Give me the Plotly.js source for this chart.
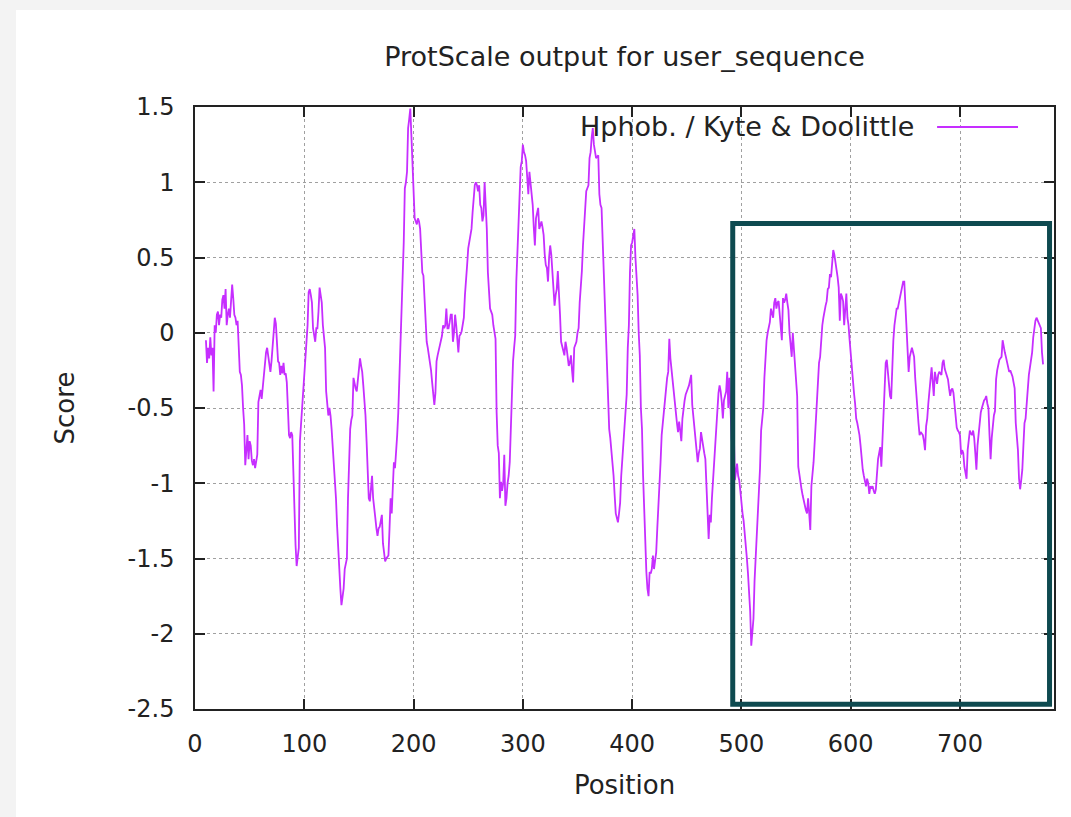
<!DOCTYPE html>
<html>
<head>
<meta charset="utf-8">
<script src="https://cdn.plot.ly/plotly-3.0.1.min.js"></script>
<style>
  html, body { margin: 0; padding: 0; background: #f3f3f3; width: 1071px; height: 817px; overflow: hidden; }
  #chart { position: absolute; left: 16px; top: 10px; width: 1055px; height: 807px; background: #ffffff; }
</style>
</head>
<body>
<div id="chart"></div>
<script>
// ---- data ----
const chartTitle = "ProtScale output for user_sequence";
const seriesName = "Hphob. / Kyte & Doolittle";
const xAxisTitle = "Position";
const yAxisTitle = "Score";
const firstPosition = 10;   // position of first score; one score per residue
const scores = [
  -0.05,-0.2,-0.1,-0.17,-0.03,-0.15,-0.1,-0.39,0.05,0.0,
  0.12,0.14,0.05,0.12,0.1,0.22,0.25,0.16,0.29,0.05,
  0.12,0.16,0.1,0.2,0.32,0.23,0.12,0.1,0.05,0.08,
  -0.1,-0.26,-0.28,-0.35,-0.5,-0.61,-0.88,-0.73,-0.68,-0.84,
  -0.72,-0.75,-0.85,-0.88,-0.84,-0.9,-0.86,-0.81,-0.46,-0.42,
  -0.38,-0.44,-0.36,-0.3,-0.17,-0.13,-0.1,-0.16,-0.2,-0.26,
  -0.19,-0.08,0.05,0.1,0.06,-0.1,-0.19,-0.2,-0.28,-0.22,
  -0.27,-0.2,-0.28,-0.27,-0.33,-0.5,-0.68,-0.7,-0.66,-0.68,
  -0.95,-1.2,-1.41,-1.55,-1.5,-1.43,-0.72,-0.6,-0.48,-0.44,
  -0.3,-0.15,-0.06,0.05,0.27,0.29,0.25,0.2,0.03,-0.03,
  -0.06,0.03,0.03,0.14,0.3,0.25,0.2,0.05,-0.05,-0.1,
  -0.39,-0.45,-0.55,-0.5,-0.55,-0.64,-0.75,-0.84,-0.97,-1.1,
  -1.28,-1.45,-1.6,-1.7,-1.81,-1.75,-1.7,-1.57,-1.52,-1.5,
  -1.1,-0.8,-0.64,-0.58,-0.55,-0.3,-0.34,-0.37,-0.39,-0.3,
  -0.26,-0.17,-0.22,-0.26,-0.35,-0.45,-0.55,-0.72,-0.9,-1.1,
  -1.12,-1.05,-0.95,-1.1,-1.15,-1.23,-1.3,-1.35,-1.3,-1.29,
  -1.25,-1.21,-1.4,-1.46,-1.52,-1.5,-1.49,-1.48,-1.3,-1.1,
  -1.2,-1.0,-0.86,-0.9,-0.8,-0.68,-0.53,-0.3,-0.08,0.07,
  0.35,0.6,0.96,1.0,1.07,1.36,1.42,1.49,1.31,1.1,
  0.87,0.76,0.74,0.72,0.76,0.74,0.69,0.52,0.4,0.38,
  0.2,0.12,-0.06,-0.1,-0.15,-0.19,-0.25,-0.33,-0.44,-0.48,
  -0.4,-0.19,-0.15,-0.12,-0.1,-0.05,-0.02,0.05,0.03,0.05,
  0.16,0.03,0.03,0.07,0.12,0.12,-0.06,0.0,0.12,0.05,
  -0.02,-0.13,-0.02,-0.01,0.01,0.05,0.1,0.25,0.4,0.45,
  0.56,0.6,0.63,0.69,0.8,0.87,0.98,1.0,0.98,0.94,
  0.98,0.85,0.83,0.74,0.78,1.0,0.85,0.69,0.4,0.25,
  0.16,0.14,0.12,0.05,0.0,-0.04,-0.53,-0.75,-0.8,-1.1,
  -0.99,-1.05,-1.0,-0.81,-1.15,-1.1,-1.0,-0.95,-0.86,-0.6,
  -0.48,-0.19,-0.1,-0.02,0.34,0.52,0.7,0.98,1.1,1.14,
  1.25,1.2,1.18,1.14,1.0,0.92,1.07,1.0,0.95,0.85,
  0.7,0.58,0.76,0.8,0.83,0.69,0.72,0.74,0.7,0.65,
  0.52,0.45,0.43,0.34,0.5,0.58,0.52,0.4,0.29,0.18,
  0.25,0.29,0.41,0.2,0.12,-0.06,-0.1,-0.12,-0.15,-0.06,
  -0.1,-0.19,-0.22,-0.2,-0.15,-0.25,-0.33,-0.1,-0.08,-0.06,
  0.0,0.03,0.2,0.3,0.41,0.58,0.7,0.76,0.94,0.96,
  0.98,1.16,1.2,1.3,1.36,1.25,1.2,1.16,1.17,1.18,
  0.92,0.85,0.83,0.6,0.49,0.18,-0.1,-0.3,-0.46,-0.64,
  -0.7,-0.77,-0.86,-0.95,-1.08,-1.2,-1.23,-1.26,-1.2,-1.13,
  -0.95,-0.85,-0.75,-0.6,-0.53,-0.41,-0.1,0.05,0.4,0.58,
  0.6,0.65,0.69,0.5,0.38,0.25,0.0,-0.15,-0.5,-0.64,
  -0.95,-1.2,-1.33,-1.59,-1.7,-1.75,-1.59,-1.6,-1.57,-1.48,
  -1.57,-1.5,-1.46,-1.3,-1.17,-1.0,-0.86,-0.68,-0.6,-0.53,
  -0.44,-0.37,-0.3,-0.26,-0.04,-0.17,-0.25,-0.33,-0.41,-0.45,
  -0.55,-0.6,-0.66,-0.59,-0.65,-0.72,-0.57,-0.5,-0.45,-0.41,
  -0.38,-0.37,-0.35,-0.3,-0.28,-0.48,-0.55,-0.61,-0.7,-0.75,
  -0.86,-0.8,-0.77,-0.66,-0.72,-0.75,-0.8,-0.84,-1.01,-1.2,
  -1.37,-1.21,-1.26,-1.1,-0.97,-0.85,-0.79,-0.64,-0.46,-0.4,
  -0.35,-0.39,-0.46,-0.57,-0.45,-0.41,-0.39,-0.26,-0.5,-0.3,
  -0.55,-0.7,-0.8,-0.65,-0.98,-0.9,-0.87,-0.95,-0.98,-1.05,
  -1.14,-1.2,-1.25,-1.32,-1.42,-1.5,-1.6,-1.72,-1.85,-2.08,
  -1.98,-1.9,-1.65,-1.5,-1.35,-1.15,-1.05,-0.9,-0.65,-0.55,
  -0.5,-0.3,-0.15,-0.05,0.0,0.05,0.07,0.16,0.12,0.1,
  0.2,0.23,0.16,0.2,0.21,0.1,0.05,-0.05,0.23,0.2,
  0.22,0.26,0.2,0.15,0.0,-0.08,-0.16,0.0,-0.1,-0.21,
  -0.35,-0.42,-0.89,-0.95,-0.99,-1.04,-1.08,-1.12,-1.15,-1.18,
  -1.2,-1.1,-1.2,-1.31,-1.02,-0.95,-0.86,-0.73,-0.6,-0.52,
  -0.31,-0.2,-0.16,0.0,0.05,0.1,0.16,0.18,0.21,0.29,
  0.3,0.39,0.37,0.45,0.55,0.52,0.45,0.42,0.37,0.3,
  0.08,0.26,0.24,0.21,0.05,0.2,0.26,0.1,0.05,-0.05,
  -0.15,-0.21,-0.31,-0.4,-0.47,-0.57,-0.6,-0.63,-0.68,-0.75,
  -0.84,-0.91,-0.95,-0.99,-1.02,-0.97,-1.0,-1.07,-1.02,-1.03,
  -1.02,-1.05,-1.07,-1.04,-0.9,-0.84,-0.8,-0.76,-0.89,-0.7,
  -0.63,-0.31,-0.2,-0.18,-0.26,-0.35,-0.42,-0.44,-0.2,-0.05,
  0.05,0.1,0.16,0.16,0.2,0.23,0.27,0.31,0.34,0.34,
  0.2,0.05,-0.1,-0.26,-0.16,-0.12,-0.1,-0.13,-0.16,-0.3,
  -0.42,-0.55,-0.6,-0.68,-0.66,-0.67,-0.68,-0.72,-0.78,-0.62,
  -0.57,-0.47,-0.35,-0.31,-0.23,-0.35,-0.42,-0.26,-0.3,-0.34,
  -0.28,-0.26,-0.27,-0.28,-0.2,-0.18,-0.24,-0.26,-0.29,-0.31,
  -0.37,-0.42,-0.38,-0.37,-0.4,-0.47,-0.58,-0.63,-0.65,-0.66,
  -0.68,-0.81,-0.78,-0.8,-0.89,-0.93,-0.97,-0.78,-0.7,-0.65,
  -0.67,-0.68,-0.65,-0.7,-0.8,-0.91,-0.75,-0.68,-0.57,-0.53,
  -0.5,-0.47,-0.45,-0.44,-0.42,-0.47,-0.5,-0.68,-0.84,-0.7,
  -0.6,-0.55,-0.52,-0.31,-0.25,-0.21,-0.18,-0.17,-0.16,-0.05,
  -0.1,-0.13,-0.16,-0.2,-0.23,-0.26,-0.25,-0.27,-0.29,-0.33,
  -0.37,-0.6,-0.7,-0.78,-0.97,-1.04,-0.98,-0.91,-0.75,-0.6,
  -0.57,-0.45,-0.34,-0.28,-0.23,-0.18,-0.13,-0.03,0.05,0.08,
  0.1,0.08,0.06,0.05,0.03,-0.13,-0.21
];
const xRange = [0, 786];
const xTickValues = [0, 100, 200, 300, 400, 500, 600, 700];
const xTickLabels = ["0", "100", "200", "300", "400", "500", "600", "700"];
const yRange = [-2.5, 1.5];
const yTickValues = [-2.5, -2, -1.5, -1, -0.5, 0, 0.5, 1, 1.5];
const yTickLabels = ["-2.5", "-2", "-1.5", "-1", "-0.5", "0", "0.5", "1", "1.5"];
// highlighted region box (in axis-fraction coordinates of the plot area)
const highlightBox = { x0: 0.626, x1: 0.9948, y0: 0.0078, y1: 0.8064 };

// ---- styles ----
const FONT = "DejaVu Sans, Verdana, sans-serif";
const lineColor = "#c62eff";
const textColor = "#222222";

const trace = {
  type: "scatter",
  mode: "lines",
  name: seriesName,
  x0: firstPosition,
  dx: 1,
  y: scores,
  line: { color: lineColor, width: 1.8 },
  showlegend: false,
  hoverinfo: "x+y"
};

const axisCommon = {
  showline: true,
  linecolor: "#222222",
  linewidth: 1.5,
  mirror: "ticks",
  ticks: "inside",
  ticklen: 10,
  tickwidth: 1.5,
  tickcolor: "#222222",
  showgrid: true,
  gridcolor: "#a0a0a0",
  gridwidth: 1,
  griddash: "dot",
  zeroline: false,
  tickfont: { family: FONT, size: 24, color: textColor },
  tickmode: "array"
};

const layout = {
  width: 1055,
  height: 807,
  paper_bgcolor: "#ffffff",
  plot_bgcolor: "#ffffff",
  margin: { l: 178.5, r: 17, t: 97, b: 108.3, pad: 0 },
  title: {
    text: chartTitle,
    font: { family: FONT, size: 27, color: textColor },
    x: 0.5, xref: "paper", xanchor: "center",
    y: 0.9418, yref: "container", yanchor: "middle"
  },
  xaxis: Object.assign({}, axisCommon, {
    range: xRange,
    tickvals: xTickValues,
    ticktext: xTickLabels,
    ticklabelstandoff: 12,
    title: { text: xAxisTitle, font: { family: FONT, size: 26, color: textColor }, standoff: 19 }
  }),
  yaxis: Object.assign({}, axisCommon, {
    range: yRange,
    tickvals: yTickValues,
    ticktext: yTickLabels,
    ticklabelstandoff: 14,
    title: { text: yAxisTitle, font: { family: FONT, size: 26, color: textColor }, standoff: 46 }
  }),
  annotations: [{
    text: seriesName,
    xref: "paper", yref: "paper",
    x: 0.8394, y: 0.9668,
    xanchor: "right", yanchor: "middle",
    showarrow: false,
    font: { family: FONT, size: 27, color: textColor }
  }],
  shapes: [
    { type: "line", xref: "paper", yref: "paper",
      x0: 0.8639, x1: 0.9581, y0: 0.9668, y1: 0.9668,
      line: { color: lineColor, width: 1.8 } },
    { type: "rect", xref: "paper", yref: "paper",
      x0: highlightBox.x0, x1: highlightBox.x1, y0: highlightBox.y0, y1: highlightBox.y1,
      line: { color: "#0e4a50", width: 5 }, fillcolor: "rgba(0,0,0,0)", layer: "above" }
  ],
  showlegend: false
};

Plotly.newPlot("chart", [trace], layout, { displayModeBar: false, staticPlot: false });
</script>
</body>
</html>
